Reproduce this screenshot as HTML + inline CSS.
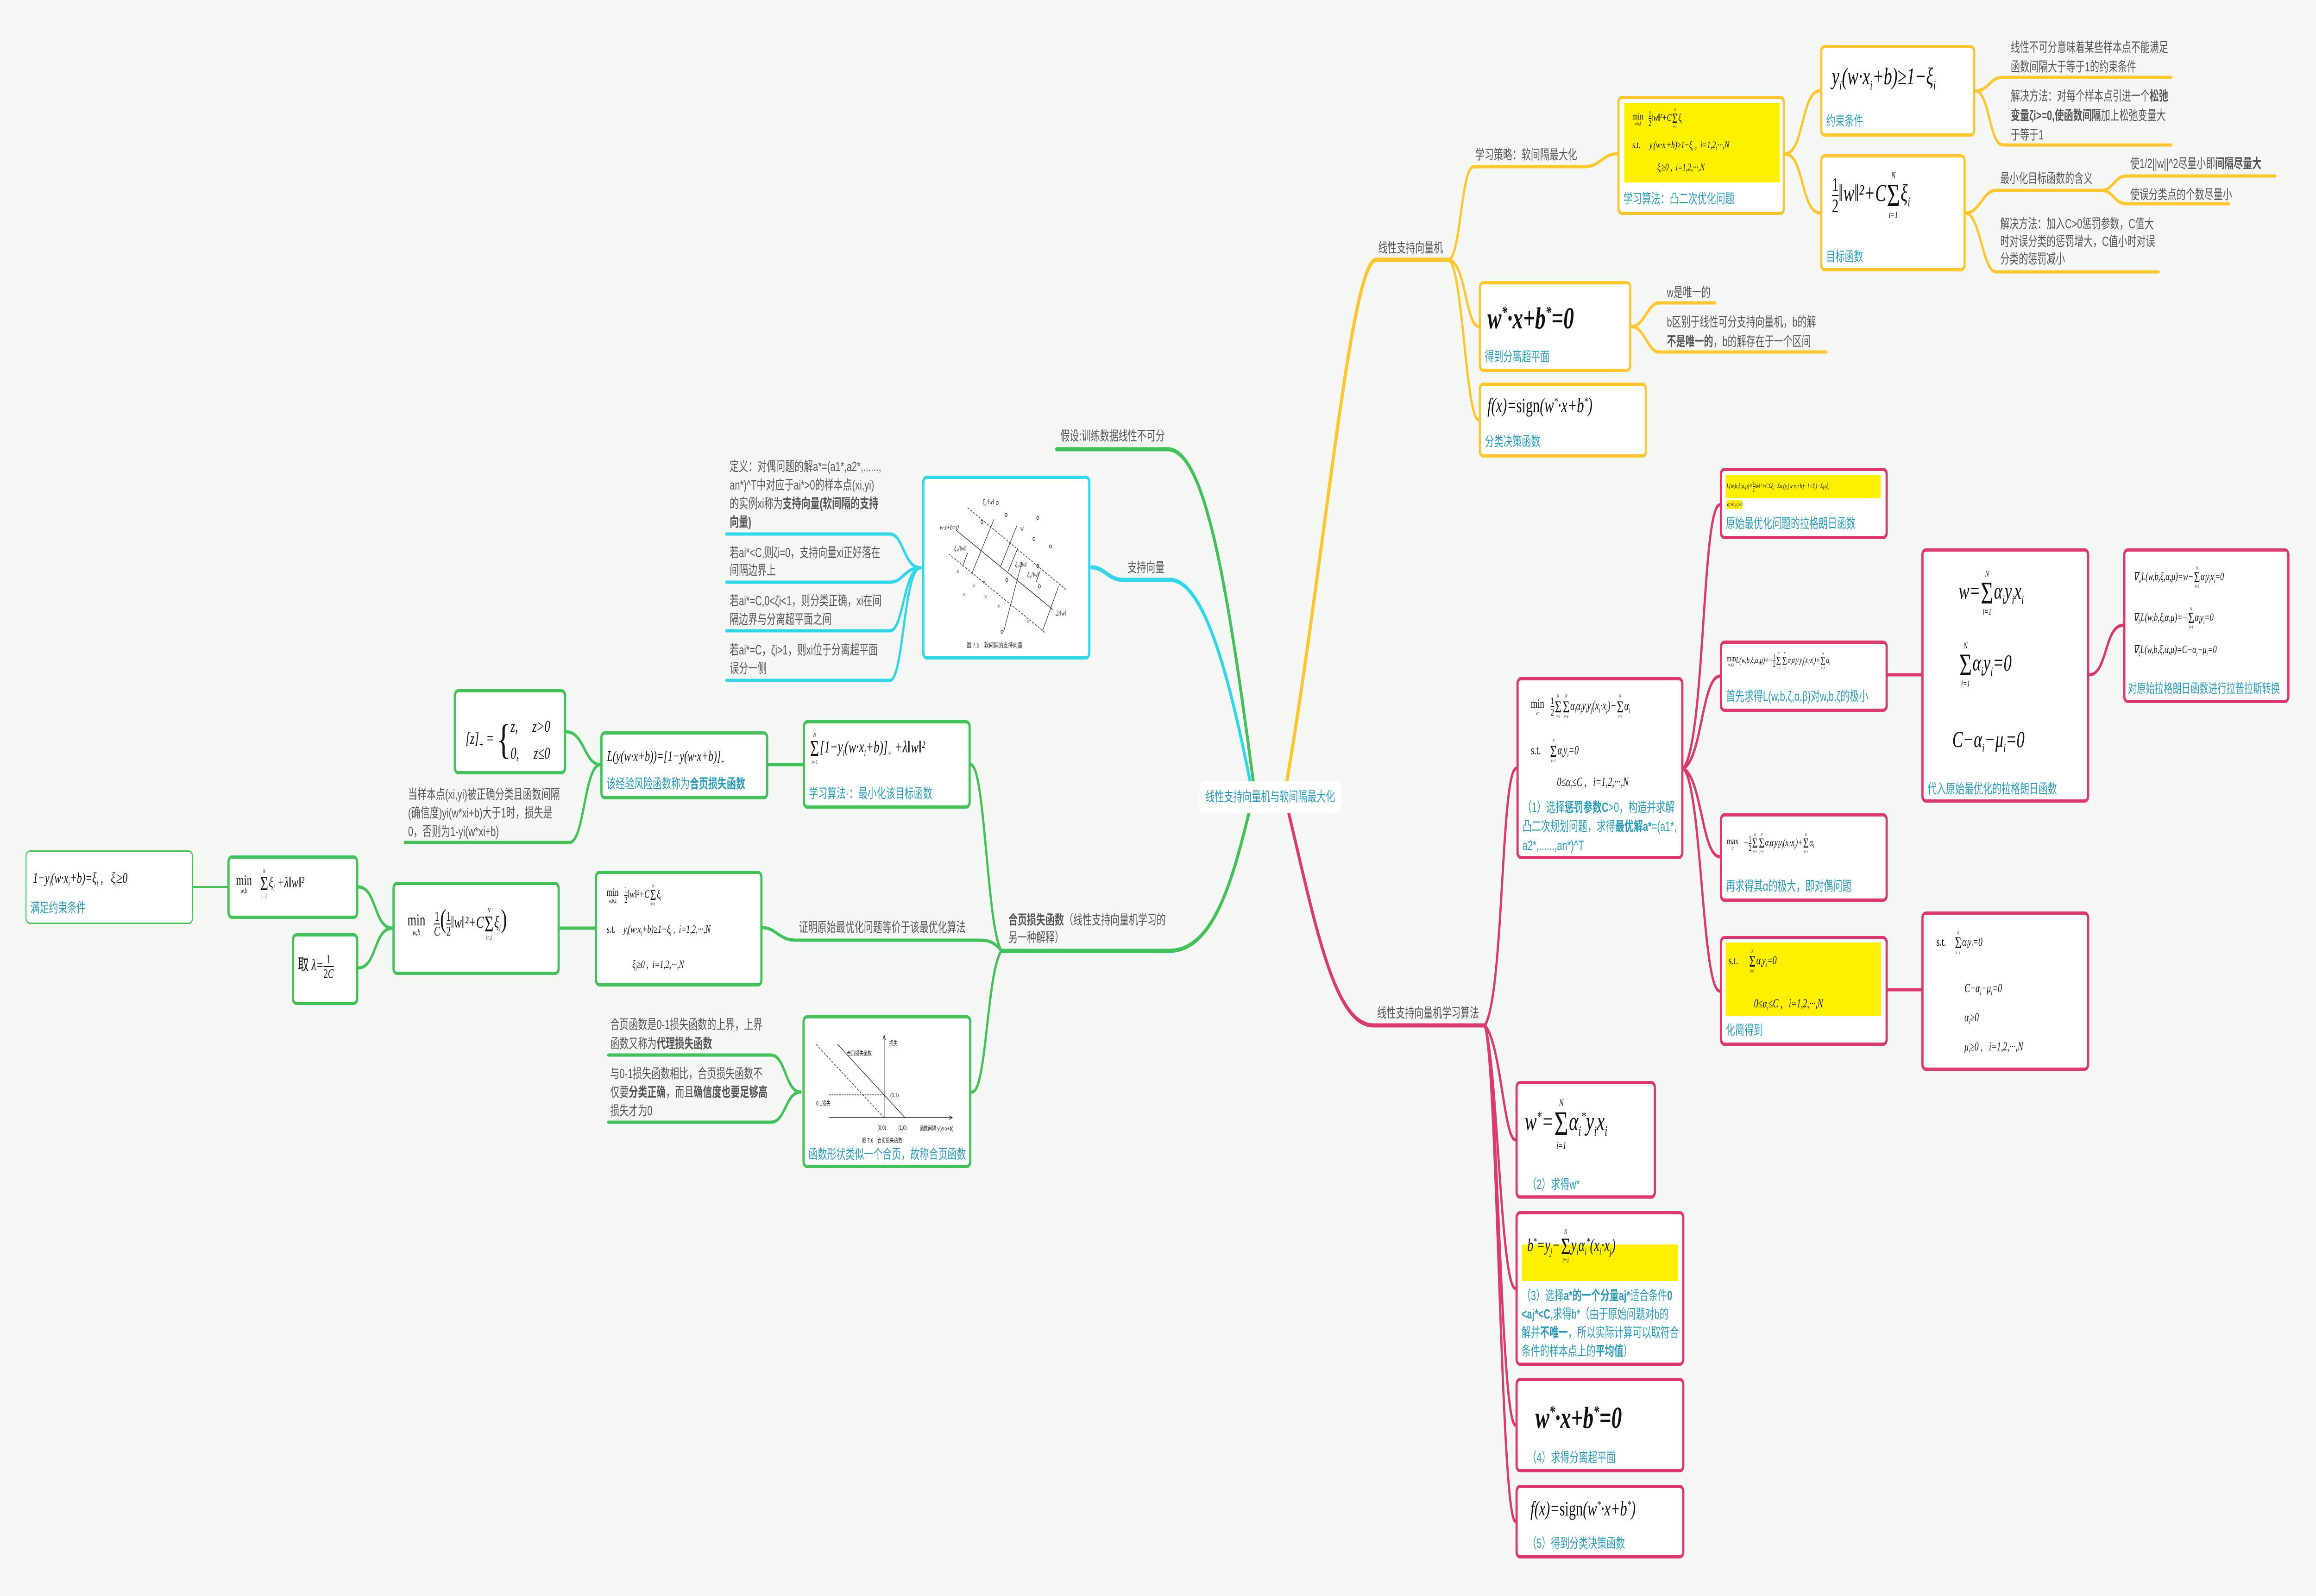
<!DOCTYPE html>
<html><head><meta charset="utf-8">
<style>
html,body{margin:0;padding:0;width:100%;height:100%;overflow:hidden;background:#f5f7f4}
body{font-family:"Liberation Sans","Noto Sans CJK SC",sans-serif}
#root{position:fixed;left:0;top:0;width:100vw;height:100vh;display:block}
#w{position:relative;width:7253px;height:3446px;background:#f5f7f4;font-family:"Liberation Sans","Noto Sans CJK SC",sans-serif}
.b{position:absolute;box-sizing:border-box;border:7px solid;border-radius:14px;background:#fff}
.Y{border-color:#ffc632}.G{border-color:#44c15b}.P{border-color:#da3a6f}.C{border-color:#33d6e6}
.t{position:absolute;font-size:29px;line-height:40px;color:#555;white-space:nowrap}
.cap{position:absolute;left:12px;font-size:29px;color:#2c9ab7;white-space:nowrap;line-height:36px}
.cap b{font-weight:bold}
.f{position:absolute;font-family:"Liberation Serif",serif;font-style:italic;color:#111;white-space:nowrap;line-height:1}
.n{font-style:normal}
.hl{position:absolute;background:#fff000}
.sm{display:inline-flex;flex-direction:column;align-items:center;vertical-align:middle;line-height:.95;margin:0 2px}
.sm i{font-size:.38em}.sm b{font-weight:normal;font-style:normal;font-size:1.35em}
.fr{display:inline-flex;flex-direction:column;vertical-align:middle;text-align:center;font-size:.8em;line-height:1.05;font-style:normal}
.fr span:first-child{border-bottom:2px solid #111}
.mn{display:inline-flex;flex-direction:column;align-items:center;vertical-align:middle;font-style:normal;line-height:1}
.mn i{font-size:.5em;font-style:italic}
sub,sup{font-size:.55em}
</style></head><body>
<svg id="root" viewBox="0 0 7253 3446" preserveAspectRatio="none" xmlns="http://www.w3.org/2000/svg">
<foreignObject x="0" y="0" width="7253" height="3446">
<div xmlns="http://www.w3.org/1999/xhtml" id="w">
<svg width="7253" height="3446" style="position:absolute;left:0;top:0" fill="none" stroke-linecap="round">
<g stroke="#ffc632" stroke-width="7">
<path stroke-width="10" d="M4030 1687 C4150 1200 4230 561 4310 561 H4535"/>
<path d="M4535 561 C4575 561 4575 360 4615 360 H4963 C5010 360 5020 332 5065 332"/>
<path d="M4535 561 C4590 561 4590 705 4631 705"/>
<path d="M4535 561 C4580 561 4590 907 4631 907"/>
<path d="M5590 332 C5650 332 5640 196 5700 196"/>
<path d="M5590 332 C5650 332 5640 460 5700 460"/>
<path d="M6186 196 C6230 196 6230 167 6272 167 H6800"/>
<path d="M6186 196 C6230 196 6230 313 6272 313 H6800"/>
<path d="M6156 460 C6200 460 6210 411 6250 411 H6580 C6620 411 6620 380 6660 380 H7125"/>
<path d="M6580 411 C6620 411 6620 440 6660 440 H6980"/>
<path d="M6156 460 C6200 460 6210 587 6250 587 H6760"/>
<path d="M5109 705 C5150 705 5160 654 5195 654 H5370"/>
<path d="M5109 705 C5150 705 5160 760 5195 760 H5720"/>
</g>
<g stroke="#33d6e6" stroke-width="7">
<path stroke-width="9" d="M3915 1687 C3860 1500 3780 1252 3664 1252 H3517 C3470 1252 3460 1225 3419 1225"/>
<path d="M2883 1226 C2830 1226 2830 1153 2787 1153 H2275"/>
<path d="M2883 1226 C2830 1226 2830 1257 2787 1257 H2275"/>
<path d="M2883 1226 C2830 1226 2830 1362 2787 1362 H2275"/>
<path d="M2883 1226 C2830 1226 2830 1469 2787 1469 H2275"/>
</g>
<g stroke="#44c15b" stroke-width="7">
<path stroke-width="9" d="M3925 1687 C3850 1300 3780 970 3657 970 H3309"/>
<path stroke-width="9" d="M3911 1756 C3860 1900 3800 2053 3662 2053 H3136"/>
<path d="M3136 2053 C3090 2000 3085 1651 3040 1651"/>
<path d="M3136 2053 C3110 2030 3090 2030 3055 2030 H2491 C2440 2030 2430 2003 2388 2003"/>
<path d="M3136 2053 C3090 2100 3090 2358 3044 2358"/>
<path d="M2406 1651 H2514"/>
<path d="M1880 1651 C1830 1651 1830 1580 1773 1580"/>
<path d="M1880 1651 C1830 1651 1830 1819 1784 1819 H1268"/>
<path d="M2507 2358 C2460 2358 2460 2278 2415 2278 H1905"/>
<path d="M2507 2358 C2460 2358 2460 2423 2415 2423 H1905"/>
<path d="M1753 2004 H1863"/>
<path d="M1122 1915 C1180 1915 1170 2004 1229 2004"/>
<path d="M1122 2090 C1180 2090 1170 2004 1229 2004"/>
<path stroke-width="4" d="M605 1915 H712"/>
</g>
<g stroke="#da3a6f" stroke-width="7">
<path stroke-width="9" d="M4036 1756 C4120 2000 4180 2214 4300 2214 H4650"/>
<path d="M4650 2214 C4710 2150 4700 1659 4749 1659"/>
<path d="M4650 2214 C4700 2250 4710 2461 4746 2461"/>
<path d="M4650 2214 C4690 2300 4700 2782 4746 2782"/>
<path d="M4650 2214 C4690 2300 4700 3077 4746 3077"/>
<path d="M4650 2214 C4690 2300 4700 3285 4746 3285"/>
<path d="M5272 1659 C5340 1600 5330 1090 5386 1090"/>
<path d="M5272 1659 C5330 1640 5330 1460 5386 1460"/>
<path d="M5272 1659 C5330 1680 5330 1850 5386 1850"/>
<path d="M5272 1659 C5330 1700 5330 2140 5386 2140"/>
<path d="M5912 1457 H6017"/>
<path d="M6543 1457 C6600 1457 6590 1350 6649 1350"/>
<path d="M5912 2137 H6017"/>
</g>
</svg>

<div style="position:absolute;left:3756px;top:1687px;width:444px;height:69px;background:#fff;border-radius:14px;color:#2c9ab7;font-size:29px;line-height:69px;text-align:center">线性支持向量机与软间隔最大化</div>

<div class="t" style="left:4316px;top:516px">线性支持向量机</div>
<div class="t" style="left:4620px;top:315px">学习策略：软间隔最大化</div>
<div class="t" style="left:6297px;top:82px;line-height:42px">线性不可分意味着某些样本点不能满足<br/>函数间隔大于等于1的约束条件</div>
<div class="t" style="left:6297px;top:187px;line-height:42px">解决方法：对每个样本点引进一个<b>松弛<br/>变量ζi&gt;=0,使函数间隔</b>加上松弛变量大<br/>于等于1</div>
<div class="t" style="left:6264px;top:366px">最小化目标函数的含义</div>
<div class="t" style="left:6671px;top:334px">使1/2||w||^2尽量小即<b>间隔尽量大</b></div>
<div class="t" style="left:6671px;top:401px">使误分类点的个数尽量小</div>
<div class="t" style="left:6264px;top:465px;line-height:38px">解决方法：加入C&gt;0惩罚参数，C值大<br/>时对误分类的惩罚增大，C值小时对误<br/>分类的惩罚减小</div>
<div class="t" style="left:5220px;top:612px">w是唯一的</div>
<div class="t" style="left:5220px;top:675px;line-height:42px">b区别于线性可分支持向量机，b的解<br/><b>不是唯一的</b>，b的解存在于一个区间</div>

<div class="b Y" style="left:5065px;top:207px;width:525px;height:257px">
 <div class="hl" style="left:15px;top:8px;width:486px;height:172px"></div>
 <div class="f" style="left:40px;top:20px;font-size:22px"><span class="mn">min<i>w,b,ξ</i></span>&#160;&#160;&#160;<span class="fr"><span>1</span><span>2</span></span>‖<i>w</i>‖²+<i>C</i><span class="sm"><i>N</i><b>Σ</b><i>i=1</i></span>ξ<sub>i</sub></div>
 <div class="f" style="left:40px;top:88px;font-size:22px"><span class="n">s.t.</span>&#160;&#160;&#160;&#160;&#160;<i>y<sub>i</sub></i>(<i>w</i>·<i>x<sub>i</sub></i>+<i>b</i>)≥1−ξ<sub>i</sub> ,&#160; <i>i</i>=1,2,···,<i>N</i></div>
 <div class="f" style="left:118px;top:136px;font-size:22px">ξ<sub>i</sub>≥0 ,&#160;&#160;<i>i</i>=1,2,···,<i>N</i></div>
 <div class="cap" style="top:198px">学习算法：凸二次优化问题</div>
</div>
<div class="b Y" style="left:5700px;top:97px;width:486px;height:198px">
 <div class="f" style="left:30px;top:36px;font-size:52px"><i>y<sub>i</sub></i>(<i>w</i>·<i>x<sub>i</sub></i>+<i>b</i>)≥1−ξ<sub>i</sub></div>
 <div class="cap" style="top:140px">约束条件</div>
</div>
<div class="b Y" style="left:5700px;top:333px;width:456px;height:253px">
 <div class="f" style="left:30px;top:30px;font-size:52px"><span class="fr"><span>1</span><span>2</span></span>‖<i>w</i>‖²+<i>C</i><span class="sm"><i>N</i><b>Σ</b><i>i=1</i></span>ξ<sub>i</sub></div>
 <div class="cap" style="top:197px">目标函数</div>
</div>
<div class="b Y" style="left:4631px;top:607px;width:478px;height:196px">
 <div class="f" style="left:20px;top:41px;font-size:66px;font-weight:bold"><i>w</i><sup>*</sup>·<i>x</i>+<i>b</i><sup>*</sup>=0</div>
 <div class="cap" style="top:139px">得到分离超平面</div>
</div>
<div class="b Y" style="left:4631px;top:826px;width:527px;height:162px">
 <div class="f" style="left:20px;top:21px;font-size:44px"><i>f</i>(<i>x</i>)=<span class="n">sign</span>(<i>w</i><sup>*</sup>·<i>x</i>+<i>b</i><sup>*</sup>)</div>
 <div class="cap" style="top:103px">分类决策函数</div>
</div>

<div class="t" style="left:3321px;top:922px">假设:训练数据线性不可分</div>
<div class="t" style="left:3531px;top:1206px">支持向量</div>
<div class="t" style="left:2285px;top:988px">定义：对偶问题的解a*=(a1*,a2*,......,<br/>an*)^T中对应于ai*&gt;0的样本点(xi,yi)<br/>的实例xi称为<b>支持向量(软间隔的支持<br/>向量)</b></div>
<div class="t" style="left:2285px;top:1175px;line-height:38px">若ai*&lt;C,则ζi=0，支持向量xi正好落在<br/>间隔边界上</div>
<div class="t" style="left:2285px;top:1278px;line-height:40px">若ai*=C,0&lt;ζi&lt;1，则分类正确，xi在间<br/>隔边界与分离超平面之间</div>
<div class="t" style="left:2285px;top:1384px;line-height:40px">若ai*=C，ζi&gt;1，则xi位于分离超平面<br/>误分一侧</div>
<div class="b C" style="left:2888px;top:1027px;width:527px;height:397px">
<svg width="513" height="383" style="position:absolute;left:0;top:0" stroke="#222" stroke-width="1.5" fill="none">
<path d="M135 62 L445 240" stroke-dasharray="6 4"/><path d="M98 110 L402 282"/><path d="M76 162 L380 333" stroke-dasharray="6 4"/>
<path d="M148 205 L218 87"/><path d="M238 190 L290 100"/><path d="M262 200 L292 150"/><path d="M248 330 L305 180"/><path d="M370 328 L420 232"/><path d="M120 188 L135 160"/><path d="M362 200 L350 222"/>
<g fill="none"><circle cx="228" cy="52" r="3.5"/><circle cx="256" cy="78" r="3.5"/><circle cx="355" cy="84" r="3.5"/><circle cx="180" cy="93" r="3.5"/><circle cx="343" cy="130" r="3.5"/><circle cx="395" cy="146" r="3.5"/><circle cx="355" cy="188" r="3.5"/><circle cx="258" cy="218" r="3.5"/><circle cx="360" cy="232" r="3.5"/><circle cx="243" cy="330" r="3.5"/></g>
<g font-family="Liberation Serif" font-size="16" fill="#222" stroke="none" font-style="italic"><text x="48" y="110">w·x+b=0</text><text x="300" y="112">w</text><text x="182" y="55">ξ₁/‖w‖</text><text x="93" y="155">ξ₂/‖w‖</text><text x="284" y="190">ξ₃/‖w‖</text><text x="322" y="212">ξ₄/‖w‖</text><text x="412" y="295">2/‖w‖</text>
<text x="100" y="205" font-style="normal">×</text><text x="150" y="236" font-style="normal">×</text><text x="120" y="255" font-style="normal">×</text><text x="183" y="228" font-style="normal">×</text><text x="187" y="260" font-style="normal">×</text><text x="228" y="280" font-style="normal">×</text><text x="320" y="313" font-style="normal">×</text>
<text x="132" y="364" font-style="normal" font-family="Liberation Sans,Noto Sans CJK SC" font-size="15">图 7.5　软间隔的支持向量</text></g>
</svg></div>

<div class="b G" style="left:1421px;top:1488px;width:352px;height:184px">
 <div class="f" style="left:30px;top:45px;font-size:36px">[<i>z</i>]<sub>+</sub> = <span style="font-size:90px;font-style:normal;vertical-align:middle;font-weight:100">{</span><span style="display:inline-block;vertical-align:middle;line-height:1.6"><i>z</i>,&#160;&#160;&#160;&#160;&#160;<i>z</i>&gt;0<br/>0,&#160;&#160;&#160;&#160;&#160;<i>z</i>≤0</span></div>
</div>
<div class="b G" style="left:1880px;top:1579px;width:526px;height:147px">
 <div class="f" style="left:14px;top:30px;font-size:32px"><i>L</i>(<i>y</i>(<i>w</i>·<i>x</i>+<i>b</i>))=[1−<i>y</i>(<i>w</i>·<i>x</i>+<i>b</i>)]<sub>+</sub></div>
 <div class="cap" style="top:89px">该经验风险函数称为<b>合页损失函数</b></div>
</div>
<div class="b G" style="left:2514px;top:1555px;width:526px;height:191px">
 <div class="f" style="left:14px;top:18px;font-size:36px"><span class="sm"><i>N</i><b>Σ</b><i>i=1</i></span>[1−<i>y<sub>i</sub></i>(<i>w</i>·<i>x<sub>i</sub></i>+<i>b</i>)]<sub>+</sub> +λ‖<i>w</i>‖²</div>
 <div class="cap" style="top:134px">学习算法·：最小化该目标函数</div>
</div>
<div class="t" style="left:1278px;top:1696px;line-height:40px">当样本点(xi,yi)被正确分类且函数间隔<br/>(确信度)yi(w*xi+b)大于1时，损失是<br/>0，否则为1-yi(w*xi+b)</div>
<div class="b G" style="left:80px;top:1836px;width:525px;height:159px;border-width:3px">
 <div class="f" style="left:20px;top:40px;font-size:32px">1−<i>y<sub>i</sub></i>(<i>w</i>·<i>x<sub>i</sub></i>+<i>b</i>)=ξ<sub>i</sub> ,&#160;&#160;&#160;ξ<sub>i</sub>≥0</div>
 <div class="cap" style="top:104px">满足约束条件</div>
</div>
<div class="b G" style="left:712px;top:1847px;width:410px;height:137px">
 <div class="f" style="left:20px;top:22px;font-size:32px"><span class="mn">min<i>w,b</i></span>&#160;&#160;&#160;<span class="sm"><i>N</i><b>Σ</b><i>i=1</i></span>ξ<sub>i</sub> +λ‖<i>w</i>‖²</div>
</div>
<div class="b G" style="left:914px;top:2015px;width:208px;height:155px">
 <div class="f" style="left:12px;top:35px;font-size:34px"><span class="n">取</span> λ=<span class="fr"><span>1</span><span>2<i>C</i></span></span></div>
</div>
<div class="b G" style="left:1229px;top:1904px;width:524px;height:201px">
 <div class="f" style="left:40px;top:45px;font-size:36px"><span class="mn">min<i>w,b</i></span>&#160;&#160;&#160;<span class="fr"><span>1</span><span><i>C</i></span></span><span style="font-size:1.6em;font-style:normal">(</span><span class="fr"><span>1</span><span>2</span></span>‖<i>w</i>‖²+<i>C</i><span class="sm"><i>N</i><b>Σ</b><i>i=1</i></span>ξ<sub>i</sub><span style="font-size:1.6em;font-style:normal">)</span></div>
</div>
<div class="b G" style="left:1863px;top:1880px;width:525px;height:250px">
 <div class="f" style="left:30px;top:22px;font-size:24px"><span class="mn">min<i>w,b,ξ</i></span>&#160;&#160;&#160;<span class="fr"><span>1</span><span>2</span></span>‖<i>w</i>‖²+<i>C</i><span class="sm"><i>N</i><b>Σ</b><i>i=1</i></span>ξ<sub>i</sub></div>
 <div class="f" style="left:30px;top:108px;font-size:24px"><span class="n">s.t.</span>&#160;&#160;&#160;&#160;<i>y<sub>i</sub></i>(<i>w</i>·<i>x<sub>i</sub></i>+<i>b</i>)≥1−ξ<sub>i</sub> ,&#160; <i>i</i>=1,2,···,<i>N</i></div>
 <div class="f" style="left:110px;top:184px;font-size:24px">ξ<sub>i</sub>≥0 ,&#160;&#160;<i>i</i>=1,2,···,<i>N</i></div>
</div>
<div class="t" style="left:2502px;top:1983px">证明原始最优化问题等价于该最优化算法</div>
<div class="t" style="left:3158px;top:1968px;line-height:38px"><b>合页损失函数</b>（线性支持向量机学习的<br/>另一种解释）</div>
<div class="t" style="left:1911px;top:2193px;line-height:41px">合页函数是0-1损失函数的上界，上界<br/>函数又称为<b>代理损失函数</b></div>
<div class="t" style="left:1911px;top:2299px;line-height:40px">与0-1损失函数相比，合页损失函数不<br/>仅要<b>分类正确</b>，而且<b>确信度也要足够高</b><br/>损失才为0</div>
<div class="b G" style="left:2513px;top:2192px;width:529px;height:330px">
<svg width="515" height="280" style="position:absolute;left:0;top:0" stroke="#222" stroke-width="1.5" fill="none">
<path d="M249 214 V38"/><path d="M245 46 L249 36 L253 46"/><path d="M76 214 H460"/><path d="M452 210 L462 214 L452 218"/>
<path d="M36 56 L248 214" stroke-dasharray="6 4"/><path d="M103 56 L314 214"/><path d="M76 165 H249" stroke-dasharray="5 3"/>
<g font-family="Liberation Sans,Noto Sans CJK SC" font-size="13" fill="#222" stroke="none"><text x="265" y="58">损失</text><text x="132" y="80">合页损失函数</text><text x="268" y="170">(0,1)</text><text x="36" y="188">0-1损失</text><text x="228" y="240">(0,0)</text><text x="293" y="240">(1,0)</text><text x="360" y="242">函数间隔 y(w·x+b)</text><text x="180" y="268">图 7.6　合页损失函数</text></g>
</svg>
 <div class="cap" style="top:276px">函数形状类似一个合页，故称合页函数</div>
</div>

<div class="t" style="left:4313px;top:2168px">线性支持向量机学习算法</div>
<div class="b P" style="left:5386px;top:1010px;width:526px;height:154px">
 <div class="hl" style="left:11px;top:8px;width:486px;height:51px"></div>
 <div class="hl" style="left:14px;top:62px;width:48px;height:20px"></div>
 <div class="f" style="left:14px;top:20px;font-size:15px"><i>L</i>(<i>w</i>,<i>b</i>,ξ,α,μ)≡<span class="fr"><span>1</span><span>2</span></span>‖<i>w</i>‖²+<i>C</i>Σξ<sub>i</sub>−Σα<sub>i</sub>(<i>y<sub>i</sub></i>(<i>w</i>·<i>x<sub>i</sub></i>+<i>b</i>)−1+ξ<sub>i</sub>)−Σμ<sub>i</sub>ξ<sub>i</sub></div>
 <div class="f" style="left:16px;top:65px;font-size:13px">α<sub>i</sub>≥0,μ<sub>i</sub>≥0.</div>
 <div class="cap" style="top:96px">原始最优化问题的拉格朗日函数</div>
</div>
<div class="b P" style="left:4749px;top:1462px;width:523px;height:393px">
 <div class="f" style="left:38px;top:30px;font-size:27px"><span class="mn">min<i>α</i></span>&#160;&#160;&#160;<span class="fr"><span>1</span><span>2</span></span><span class="sm"><i>N</i><b>Σ</b><i>i=1</i></span><span class="sm"><i>N</i><b>Σ</b><i>j=1</i></span>α<sub>i</sub>α<sub>j</sub><i>y<sub>i</sub>y<sub>j</sub></i>(<i>x<sub>i</sub></i>·<i>x<sub>j</sub></i>)−<span class="sm"><i>N</i><b>Σ</b><i>i=1</i></span>α<sub>i</sub></div>
 <div class="f" style="left:38px;top:126px;font-size:27px"><span class="n">s.t.</span>&#160;&#160;&#160;&#160;<span class="sm"><i>N</i><b>Σ</b><i>i=1</i></span>α<sub>i</sub><i>y<sub>i</sub></i>=0</div>
 <div class="f" style="left:120px;top:206px;font-size:27px">0≤α<sub>i</sub>≤<i>C</i> ,&#160;&#160;&#160;<i>i</i>=1,2,···,<i>N</i></div>
 <div class="cap" style="top:255px;line-height:41px">（1）选择<b>惩罚参数C</b>&gt;0，构造并求解<br/>凸二次规划问题，求得<b>最优解a*</b>=(a1*,<br/>a2*,......,an*)^T</div>
</div>
<div class="b P" style="left:5386px;top:1383px;width:526px;height:154px">
 <div class="f" style="left:14px;top:18px;font-size:19px"><span class="mn">min<i>w,b,ξ</i></span><i>L</i>(<i>w</i>,<i>b</i>,ξ,α,μ)=−<span class="fr"><span>1</span><span>2</span></span><span class="sm"><i>N</i><b>Σ</b><i>i=1</i></span><span class="sm"><i>N</i><b>Σ</b><i>j=1</i></span>α<sub>i</sub>α<sub>j</sub><i>y<sub>i</sub>y<sub>j</sub></i>(<i>x<sub>i</sub></i>·<i>x<sub>j</sub></i>)+<span class="sm"><i>N</i><b>Σ</b><i>i=1</i></span>α<sub>i</sub></div>
 <div class="cap" style="top:96px">首先求得L(w,b,ζ,α,β)对w,b,ζ的极小</div>
</div>
<div class="b P" style="left:5386px;top:1756px;width:526px;height:191px">
 <div class="f" style="left:14px;top:36px;font-size:22px"><span class="mn">max<i>α</i></span>&#160;&#160;&#160;−<span class="fr"><span>1</span><span>2</span></span><span class="sm"><i>N</i><b>Σ</b><i>i=1</i></span><span class="sm"><i>N</i><b>Σ</b><i>j=1</i></span>α<sub>i</sub>α<sub>j</sub><i>y<sub>i</sub>y<sub>j</sub></i>(<i>x<sub>i</sub></i>·<i>x<sub>j</sub></i>)+<span class="sm"><i>N</i><b>Σ</b><i>i=1</i></span>α<sub>i</sub></div>
 <div class="cap" style="top:133px">再求得其α的极大，即对偶问题</div>
</div>
<div class="b P" style="left:5386px;top:2021px;width:526px;height:237px">
 <div class="hl" style="left:11px;top:7px;width:487px;height:158px"></div>
 <div class="f" style="left:20px;top:22px;font-size:26px"><span class="n">s.t.</span>&#160;&#160;&#160;&#160;&#160;<span class="sm"><i>N</i><b>Σ</b><i>i=1</i></span>α<sub>i</sub><i>y<sub>i</sub></i>=0</div>
 <div class="f" style="left:100px;top:126px;font-size:26px">0≤α<sub>i</sub>≤<i>C</i> ,&#160;&#160;&#160;<i>i</i>=1,2,···,<i>N</i></div>
 <div class="cap" style="top:179px">化简得到</div>
</div>
<div class="b P" style="left:6017px;top:1184px;width:526px;height:549px">
 <div class="f" style="left:110px;top:40px;font-size:50px"><i>w</i>=<span class="sm"><i>N</i><b>Σ</b><i>i=1</i></span>α<sub>i</sub><i>y<sub>i</sub>x<sub>i</sub></i></div>
 <div class="f" style="left:110px;top:195px;font-size:50px"><span class="sm"><i>N</i><b>Σ</b><i>i=1</i></span>α<sub>i</sub><i>y<sub>i</sub></i>=0</div>
 <div class="f" style="left:90px;top:380px;font-size:50px"><i>C</i>−α<sub>i</sub>−μ<sub>i</sub>=0</div>
 <div class="cap" style="top:495px">代入原始最优化的拉格朗日函数</div>
</div>
<div class="b P" style="left:6649px;top:1184px;width:521px;height:334px">
 <div class="f" style="left:25px;top:32px;font-size:24px">∇<sub>w</sub><i>L</i>(<i>w</i>,<i>b</i>,ξ,α,μ)=<i>w</i>−<span class="sm"><i>N</i><b>Σ</b><i>i=1</i></span>α<sub>i</sub><i>y<sub>i</sub>x<sub>i</sub></i>=0</div>
 <div class="f" style="left:25px;top:120px;font-size:24px">∇<sub>b</sub><i>L</i>(<i>w</i>,<i>b</i>,ξ,α,μ)=−<span class="sm"><i>N</i><b>Σ</b><i>i=1</i></span>α<sub>i</sub><i>y<sub>i</sub></i>=0</div>
 <div class="f" style="left:25px;top:200px;font-size:24px">∇<sub>ξ</sub><i>L</i>(<i>w</i>,<i>b</i>,ξ,α,μ)=<i>C</i>−α<sub>i</sub>−μ<sub>i</sub>=0</div>
 <div class="cap" style="top:278px;left:8px;font-size:28px">对原始拉格朗日函数进行拉普拉斯转换</div>
</div>
<div class="b P" style="left:6017px;top:1968px;width:526px;height:344px">
 <div class="f" style="left:40px;top:35px;font-size:26px"><span class="n">s.t.</span>&#160;&#160;&#160;&#160;<span class="sm"><i>N</i><b>Σ</b><i>i=1</i></span>α<sub>i</sub><i>y<sub>i</sub></i>=0</div>
 <div class="f" style="left:128px;top:146px;font-size:26px"><i>C</i>−α<sub>i</sub>−μ<sub>i</sub>=0</div>
 <div class="f" style="left:128px;top:209px;font-size:26px">α<sub>i</sub>≥0</div>
 <div class="f" style="left:128px;top:272px;font-size:26px">μ<sub>i</sub>≥0 ,&#160;&#160;&#160;<i>i</i>=1,2,···,<i>N</i></div>
</div>
<div class="b P" style="left:4746px;top:2334px;width:440px;height:254px">
 <div class="f" style="left:22px;top:30px;font-size:56px"><i>w</i><sup>*</sup>=<span class="sm"><i>N</i><b>Σ</b><i>i=1</i></span>α<sub>i</sub><sup>*</sup><i>y<sub>i</sub>x<sub>i</sub></i></div>
 <div class="cap" style="top:199px;left:30px">（2）求得w*</div>
</div>
<div class="b P" style="left:4746px;top:2615px;width:529px;height:334px">
 <div class="hl" style="left:13px;top:65px;width:489px;height:79px"></div>
 <div class="f" style="left:30px;top:32px;font-size:38px"><i>b</i><sup>*</sup>=<i>y<sub>j</sub></i>−<span class="sm"><i>N</i><b>Σ</b><i>i=1</i></span><i>y<sub>i</sub></i>α<sub>i</sub><sup>*</sup>(<i>x<sub>i</sub></i>·<i>x<sub>j</sub></i>)</div>
 <div class="cap" style="top:156px;line-height:40px">（3）选择<b>a*的一个分量aj*</b>适合条件<b>0<br/>&lt;aj*&lt;C</b>,求得b*（由于原始问题对b的<br/>解并<b>不唯一</b>，所以实际计算可以取符合<br/>条件的样本点上的<b>平均值</b>）</div>
</div>
<div class="b P" style="left:4746px;top:2975px;width:529px;height:204px">
 <div class="f" style="left:55px;top:47px;font-size:66px;font-weight:bold"><i>w</i><sup>*</sup>·<i>x</i>+<i>b</i><sup>*</sup>=0</div>
 <div class="cap" style="top:148px;left:30px">（4）求得分离超平面</div>
</div>
<div class="b P" style="left:4746px;top:3206px;width:529px;height:159px">
 <div class="f" style="left:40px;top:23px;font-size:44px"><i>f</i>(<i>x</i>)=<span class="n">sign</span>(<i>w</i><sup>*</sup>·<i>x</i>+<i>b</i><sup>*</sup>)</div>
 <div class="cap" style="top:102px;left:30px">（5）得到分类决策函数</div>
</div>
</div>
</foreignObject>
</svg>
</body></html>
